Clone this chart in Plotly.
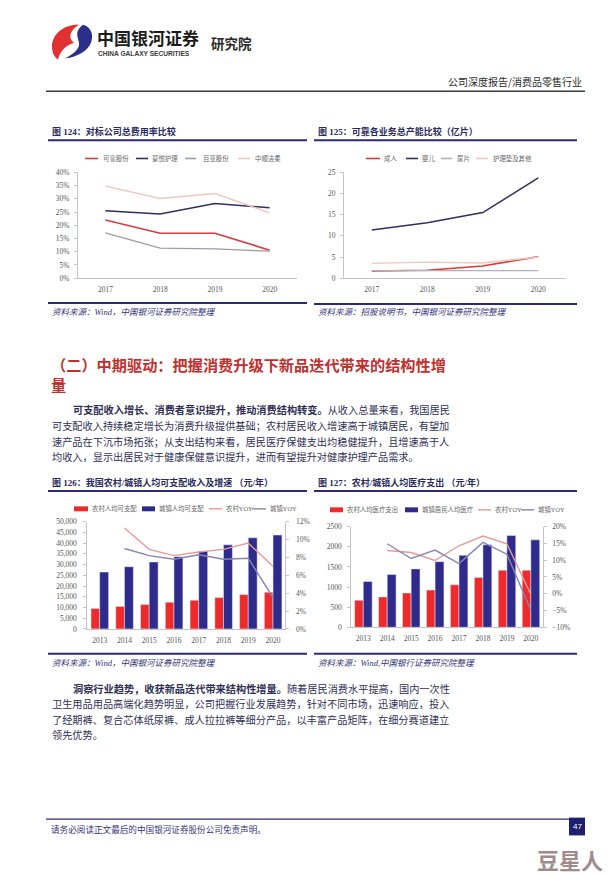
import plotly.graph_objects as go

W, H = 616, 874


def px(x):
    return x / W


def py(y):
    return 1 - y / H


# ---------------- data ----------------
years_a = ["2017", "2018", "2019", "2020"]
# 图124 对标公司总费用率
kekao_exp = [0.220, 0.170, 0.170, 0.106]
haoyue_exp = [0.255, 0.243, 0.282, 0.266]
baiya_exp = [0.171, 0.114, 0.111, 0.102]
zhongshun_exp = [0.348, 0.301, 0.320, 0.247]

# 图125 可靠各业务总产能（亿片）
cap_adult = [1.7, 1.9, 2.9, 5.1]
cap_baby = [11.4, 13.1, 15.5, 23.7]
cap_diaper = [1.8, 1.8, 1.8, 1.8]
cap_pad = [3.5, 3.8, 3.6, 5.0]

years_b = ["2013", "2014", "2015", "2016", "2017", "2018", "2019", "2020"]
# 图126 人均可支配收入（元/年）
rural_income = [9500, 10500, 11400, 12400, 13400, 14600, 16000, 17100]
urban_income = [26500, 29000, 31200, 33700, 36300, 39200, 42500, 43800]
rural_income_yoy = [None, 0.113, 0.089, 0.082, 0.086, 0.089, 0.096, 0.070]
urban_income_yoy = [None, 0.090, 0.082, 0.078, 0.083, 0.078, 0.079, 0.035]

# 图127 人均医疗支出（元/年）
rural_med = [672, 754, 852, 926, 1057, 1238, 1418, 1418]
urban_med = [1139, 1311, 1451, 1631, 1787, 2049, 2279, 2172]
rural_med_yoy = [None, 0.129, 0.123, 0.099, 0.143, 0.172, 0.149, -0.002]
urban_med_yoy = [None, 0.149, 0.105, 0.130, 0.090, 0.153, 0.118, -0.049]

# ---------------- style ----------------
CJK = "Noto Sans CJK SC"
NUM = "Liberation Serif, Noto Sans CJK SC"
RED = "#ee2a2a"
NAVY = "#2e2b8c"
LRED = "#d93a3a"
DNAVY = "#2f2f60"
GRAY = "#9c9ca6"
PINK = "#f1c6bf"
YOY_R = "#e59a98"
YOY_U = "#8a84b2"
TITLE_C = "#2a2a5c"
LINE_C = "#2b2a78"
TEXT_C = "#2f2f55"
SRC_C = "#34347a"

fig = go.Figure()

# 图124
for name, vals, col, wd in [("可靠股份", kekao_exp, LRED, 1.6),
                            ("豪悦护理", haoyue_exp, DNAVY, 1.5),
                            ("百亚股份", baiya_exp, GRAY, 1.3),
                            ("中顺洁柔", zhongshun_exp, PINK, 1.4)]:
    fig.add_trace(go.Scatter(x=years_a, y=vals, name=name, mode="lines",
                             line=dict(color=col, width=wd), xaxis="x", yaxis="y",
                             showlegend=False))

# 图125
for name, vals, col, wd in [("成人", cap_adult, LRED, 1.6),
                            ("婴儿", cap_baby, DNAVY, 1.5),
                            ("尿片", cap_diaper, "#b0b0bc", 1.3),
                            ("护理垫及其他", cap_pad, PINK, 1.4)]:
    fig.add_trace(go.Scatter(x=years_a, y=vals, name=name, mode="lines",
                             line=dict(color=col, width=wd), xaxis="x2", yaxis="y2",
                             showlegend=False))

# 图126
fig.add_trace(go.Bar(x=years_b, y=rural_income, name="农村人均可支配", marker_color=RED,
                     width=0.35, offset=-0.35, xaxis="x3", yaxis="y3", showlegend=False))
fig.add_trace(go.Bar(x=years_b, y=urban_income, name="城镇人均可支配", marker_color=NAVY,
                     width=0.36, offset=0.0, xaxis="x3", yaxis="y3", showlegend=False))
fig.add_trace(go.Scatter(x=years_b, y=rural_income_yoy, name="农村YOY", mode="lines",
                         line=dict(color=YOY_R, width=1.4), xaxis="x3", yaxis="y4",
                         showlegend=False))
fig.add_trace(go.Scatter(x=years_b, y=urban_income_yoy, name="城镇YOY", mode="lines",
                         line=dict(color=YOY_U, width=1.4), xaxis="x3", yaxis="y4",
                         showlegend=False))

# 图127
fig.add_trace(go.Bar(x=years_b, y=rural_med, name="农村人均医疗支出", marker_color=RED,
                     width=0.36, offset=-0.36, xaxis="x4", yaxis="y5", showlegend=False))
fig.add_trace(go.Bar(x=years_b, y=urban_med, name="城镇居民人均医疗", marker_color=NAVY,
                     width=0.37, offset=0.0, xaxis="x4", yaxis="y5", showlegend=False))
fig.add_trace(go.Scatter(x=years_b, y=rural_med_yoy, name="农村YOY", mode="lines",
                         line=dict(color=YOY_R, width=1.4), xaxis="x4", yaxis="y6",
                         showlegend=False))
fig.add_trace(go.Scatter(x=years_b, y=urban_med_yoy, name="城镇YOY", mode="lines",
                         line=dict(color=YOY_U, width=1.4), xaxis="x4", yaxis="y6",
                         showlegend=False))

tickfont = dict(family=NUM, size=7.5, color="#555555")
base = dict(showgrid=False, zeroline=False, showline=True, linecolor="#c4c4c4",
            linewidth=1, tickfont=tickfont, fixedrange=True)
xbase = dict(base, type="category", ticks="", ticklabelstandoff=4)
ybase = dict(base, ticks="outside", ticklen=3, tickcolor="#c4c4c4", ticklabelstandoff=3)

fig.update_layout(
    width=W, height=H, margin=dict(l=0, r=0, t=0, b=0),
    paper_bgcolor="white", plot_bgcolor="white", showlegend=False,
    xaxis=dict(xbase, domain=[px(70), px(289)], anchor="y", range=[-0.5, 3.5]),
    yaxis=dict(ybase, domain=[py(269), py(162)], anchor="x", range=[0, 0.4],
               dtick=0.05, tickformat=".0%"),
    xaxis2=dict(xbase, domain=[px(336), px(558)], anchor="y2", range=[-0.5, 3.5]),
    yaxis2=dict(ybase, domain=[py(269), py(162)], anchor="x2", range=[0, 25], dtick=5),
    xaxis3=dict(xbase, domain=[px(79.3), px(277.4)], anchor="y3", range=[-0.5, 7.5]),
    yaxis3=dict(ybase, domain=[py(623.3), py(515)], anchor="x3", range=[0, 50000],
                dtick=5000, tickformat=",", ticklabelstandoff=5),
    yaxis4=dict(ybase, overlaying="y3", side="right", anchor="x3", range=[0, 0.12],
                dtick=0.02, tickformat=".0%", ticklabelstandoff=5),
    xaxis4=dict(xbase, domain=[px(343.3), px(534.8)], anchor="y5", range=[-0.5, 7.5]),
    yaxis5=dict(ybase, domain=[py(621.7), py(520)], anchor="x4", range=[0, 2500],
                dtick=500, ticklabelstandoff=4),
    yaxis6=dict(ybase, overlaying="y5", side="right", anchor="x4", range=[-0.10, 0.20],
                dtick=0.05, tickformat=".0%", ticklabelstandoff=4),
)

shapes = []
ann = []


def hline(x0, x1, y, color, width):
    shapes.append(dict(type="line", xref="paper", yref="paper", x0=px(x0), x1=px(x1),
                       y0=py(y), y1=py(y), line=dict(color=color, width=width)))


def rect(x0, x1, y0, y1, color):
    shapes.append(dict(type="rect", xref="paper", yref="paper", x0=px(x0), x1=px(x1),
                       y0=py(y1), y1=py(y0), fillcolor=color, line=dict(width=0)))


def text(x, y, s, size, color, family=CJK, anchor="left"):
    ann.append(dict(xref="paper", yref="paper", x=px(x), y=py(y), text=s, showarrow=False,
                    xanchor=anchor, yanchor="middle",
                    font=dict(family=family, size=size, color=color)))


def path(points_cmds, color):
    parts = []
    for cmd, pts in points_cmds:
        coords = " ".join(f"{px(a):.5f},{py(b):.5f}" for a, b in pts)
        parts.append(f"{cmd} {coords}")
    shapes.append(dict(type="path", xref="paper", yref="paper",
                       path=" ".join(parts) + " Z", fillcolor=color, line=dict(width=0)))


# ---- header ----
path([("M", [(71, 13)]), ("C", [(57, 12), (44, 22), (44, 35)]),
      ("C", [(44, 41), (46, 45), (50, 48)]), ("C", [(52, 40), (57, 34), (66, 31)]),
      ("C", [(60, 27), (61, 19), (71, 13)])], "#e03030")
path([("M", [(75, 13)]), ("C", [(83, 15), (86, 23), (83, 31)]),
      ("C", [(80, 39), (70, 45), (57, 47)]), ("C", [(66, 42), (72, 37), (71, 31)]),
      ("C", [(70, 25), (66, 20), (75, 13)])], "#2a2f8a")
text(87, 26, "<b>中国银河证券</b>", 17, "#1c1c1c")
text(88, 42, "<b>CHINA GALAXY SECURITIES</b>", 6.6, "#3a3a3a", family="Liberation Sans")
text(201, 31, "<b>研究院</b>", 13.5, "#2a2a2a")
text(576, 70, "公司深度报告/消费品零售行业", 10, "#2a2a2a", anchor="right")
hline(38, 577, 80, "#3a3a3a", 1.6)

# ---- chart 124 / 125 frames ----
text(42, 121, "<b>图 124：对标公司总费用率比较</b>", 9, TITLE_C, family=NUM)
hline(40, 299, 129.5, LINE_C, 2)
hline(40, 299, 294, LINE_C, 2)
text(42, 303, "<i>资料来源：Wind，中国银河证券研究院整理</i>", 8.5, SRC_C, family=NUM)

text(308, 121, "<b>图 125：可靠各业务总产能比较（亿片）</b>", 9, TITLE_C, family=NUM)
hline(306, 569, 129.5, LINE_C, 2)
hline(306, 569, 295, LINE_C, 2)
text(308, 303, "<i>资料来源：招股说明书，中国银河证券研究院整理</i>", 8.5, SRC_C, family=NUM)

LEGC = "#666666"
LSZ = 6.4
for x0, x1, tx, s, col in [(77, 90, 92.5, "可靠股份", LRED), (128, 140, 141.5, "豪悦护理", DNAVY),
                           (177, 188, 192.5, "百亚股份", GRAY), (230, 242, 245, "中顺洁柔", PINK)]:
    hline(x0, x1, 148, col, 1.6)
    text(tx, 148, s, LSZ, LEGC)
for x0, x1, tx, s, col in [(358, 372, 374, "成人", LRED), (398, 410, 412, "婴儿", DNAVY),
                           (433, 444, 447, "尿片", "#b0b0bc"), (468, 480, 483, "护理垫及其他", PINK)]:
    hline(x0, x1, 148, col, 1.6)
    text(tx, 148, s, LSZ, LEGC)

# ---- section heading & paragraph ----
HEAD_C = "#c0302e"
text(41, 356, "<b>（二）中期驱动：把握消费升级下新品迭代带来的结构性增</b>", 15.2, HEAD_C)
text(41, 376, "<b>量</b>", 15.2, HEAD_C)

PSZ = 10.2
text(63, 401.5, "<b>可支配收入增长、消费者意识提升，推动消费结构转变。</b>从收入总量来看，我国居民", PSZ, TEXT_C)
text(42, 417.5, "可支配收入持续稳定增长为消费升级提供基础；农村居民收入增速高于城镇居民，有望加", PSZ, TEXT_C)
text(42, 433.5, "速产品在下沉市场拓张；从支出结构来看，居民医疗保健支出均稳健提升，且增速高于人", PSZ, TEXT_C)
text(42, 449.5, "均收入，显示出居民对于健康保健意识提升，进而有望提升对健康护理产品需求。", PSZ, TEXT_C)

# ---- chart 126 / 127 frames ----
text(42, 475, "<b>图 126：我国农村/城镇人均可支配收入及增速 （元/年）</b>", 9, TITLE_C, family=NUM)
hline(40, 299, 484, LINE_C, 2)
hline(40, 299, 648.5, LINE_C, 2)
text(42, 658, "<i>资料来源：Wind，中国银河证券研究院整理</i>", 8.5, SRC_C, family=NUM)

text(308, 475, "<b>图 127：农村/城镇人均医疗支出 （元/年）</b>", 9, TITLE_C, family=NUM)
hline(306, 569, 484, LINE_C, 2)
hline(306, 569, 648.5, LINE_C, 2)
text(308, 657.5, "<i>资料来源：Wind,中国银行证券研究院整理</i>", 8.5, SRC_C, family=NUM)

# legends 126
rect(66, 80, 499.5, 504.5, RED)
text(81.5, 502, "农村人均可支配", LSZ, LEGC)
rect(134, 147, 499.5, 504.5, NAVY)
text(148.5, 502, "城镇人均可支配", LSZ, LEGC)
hline(201, 214, 502, YOY_R, 1.4)
text(215.5, 502, "农村YOY", LSZ, LEGC, family=NUM)
hline(244, 258, 502, YOY_U, 1.4)
text(259.5, 502, "城镇YOY", LSZ, LEGC, family=NUM)

# legends 127
rect(322, 335, 500.5, 505.5, RED)
text(336.5, 503, "农村人均医疗支出", LSZ, LEGC)
rect(397, 410, 500.5, 505.5, NAVY)
text(411.5, 503, "城镇居民人均医疗", LSZ, LEGC)
hline(470, 483, 503, YOY_R, 1.4)
text(485, 503, "农村YOY", LSZ, LEGC, family=NUM)
hline(513, 526, 503, YOY_U, 1.4)
text(528, 503, "城镇YOY", LSZ, LEGC, family=NUM)

# ---- second paragraph ----
text(63, 683.5, "<b>洞察行业趋势，收获新品迭代带来结构性增量。</b>随着居民消费水平提高，国内一次性", PSZ, TEXT_C)
text(42, 699, "卫生用品用品高端化趋势明显，公司把握行业发展趋势，针对不同市场，迅速响应，投入", PSZ, TEXT_C)
text(42, 714.5, "了经期裤、复合芯体纸尿裤、成人拉拉裤等细分产品，以丰富产品矩阵，在细分赛道建立", PSZ, TEXT_C)
text(42, 730, "领先优势。", PSZ, TEXT_C)

# ---- footer ----
hline(38, 561, 815.5, LINE_C, 1.4)
rect(561, 577, 814, 832, "#1f1f70")
text(569, 823, "47", 8, "white", family="Liberation Sans", anchor="center")
text(41, 825, "请务必阅读正文最后的中国银河证券股份公司免责声明。", 8.6, SRC_C)
text(562, 856, "<b>豆星人</b>", 22, "#a08a8a", anchor="center")

fig.update_layout(shapes=shapes, annotations=ann)
fig.write_html("out.html")
